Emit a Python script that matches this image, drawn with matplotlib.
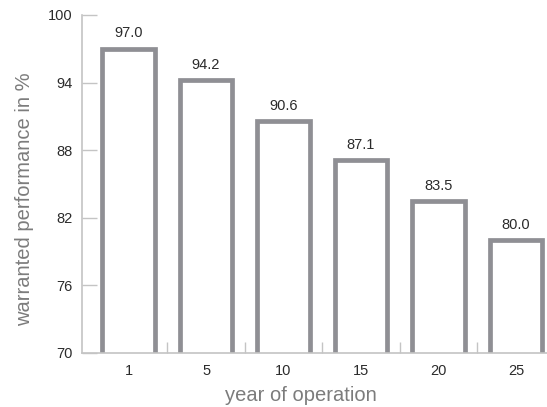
import numpy as np
import matplotlib
matplotlib.use("Agg")
import matplotlib.pyplot as plt

years = ["1", "5", "10", "15", "20", "25"]
performance = [97.0, 94.2, 90.6, 87.1, 83.5, 80.0]
y_ticks = [70, 76, 82, 88, 94, 100]

BAR_EDGE = "#8f8f94"
SPINE = "#c4c4c4"
TEXT_DARK = "#2b2b2b"
TEXT_GREY = "#7c7c7c"

plt.rcParams["font.family"] = ["Liberation Sans", "DejaVu Sans"]

fig = plt.figure(figsize=(5.47, 4.07), dpi=100)
ax = fig.add_axes([0.15, 0.1327, 0.85, 0.8305])

x = np.arange(len(years))
ax.bar(x, performance, width=0.68, facecolor="white",
       edgecolor=BAR_EDGE, linewidth=3.4, zorder=2)

for xi, v in zip(x, performance):
    ax.annotate(f"{v:.1f}", (xi, v), xytext=(0, 6), textcoords="offset points",
                ha="center", va="bottom", fontsize=10.5, color=TEXT_DARK)

ax.set_xlim(-0.6, 5.4)
ax.set_ylim(70, 100)
ax.set_yticks(y_ticks)
ax.set_xticks(x)
ax.set_xticklabels(years)
ax.set_xticks(x[:-1] + 0.5, minor=True)

ax.tick_params(axis="y", direction="in", length=11, width=1, color=SPINE,
               labelsize=10.5, labelcolor=TEXT_DARK, pad=7)
ax.tick_params(axis="x", which="major", length=0, labelsize=10.5,
               labelcolor=TEXT_DARK, pad=8)
ax.tick_params(axis="x", which="minor", direction="in", length=8, width=1,
               color=SPINE)

for side in ["top", "right"]:
    ax.spines[side].set_visible(False)
for side in ["left", "bottom"]:
    ax.spines[side].set_color(SPINE)
    ax.spines[side].set_linewidth(1.2)

ax.set_ylabel("warranted performance in %", fontsize=14.5, color=TEXT_GREY)
ax.set_xlabel("year of operation", fontsize=14.5, color=TEXT_GREY)
ax.yaxis.set_label_coords(-0.104, 0.456)
ax.xaxis.set_label_coords(0.471, -0.098)

fig.savefig("out.png", dpi=100)
